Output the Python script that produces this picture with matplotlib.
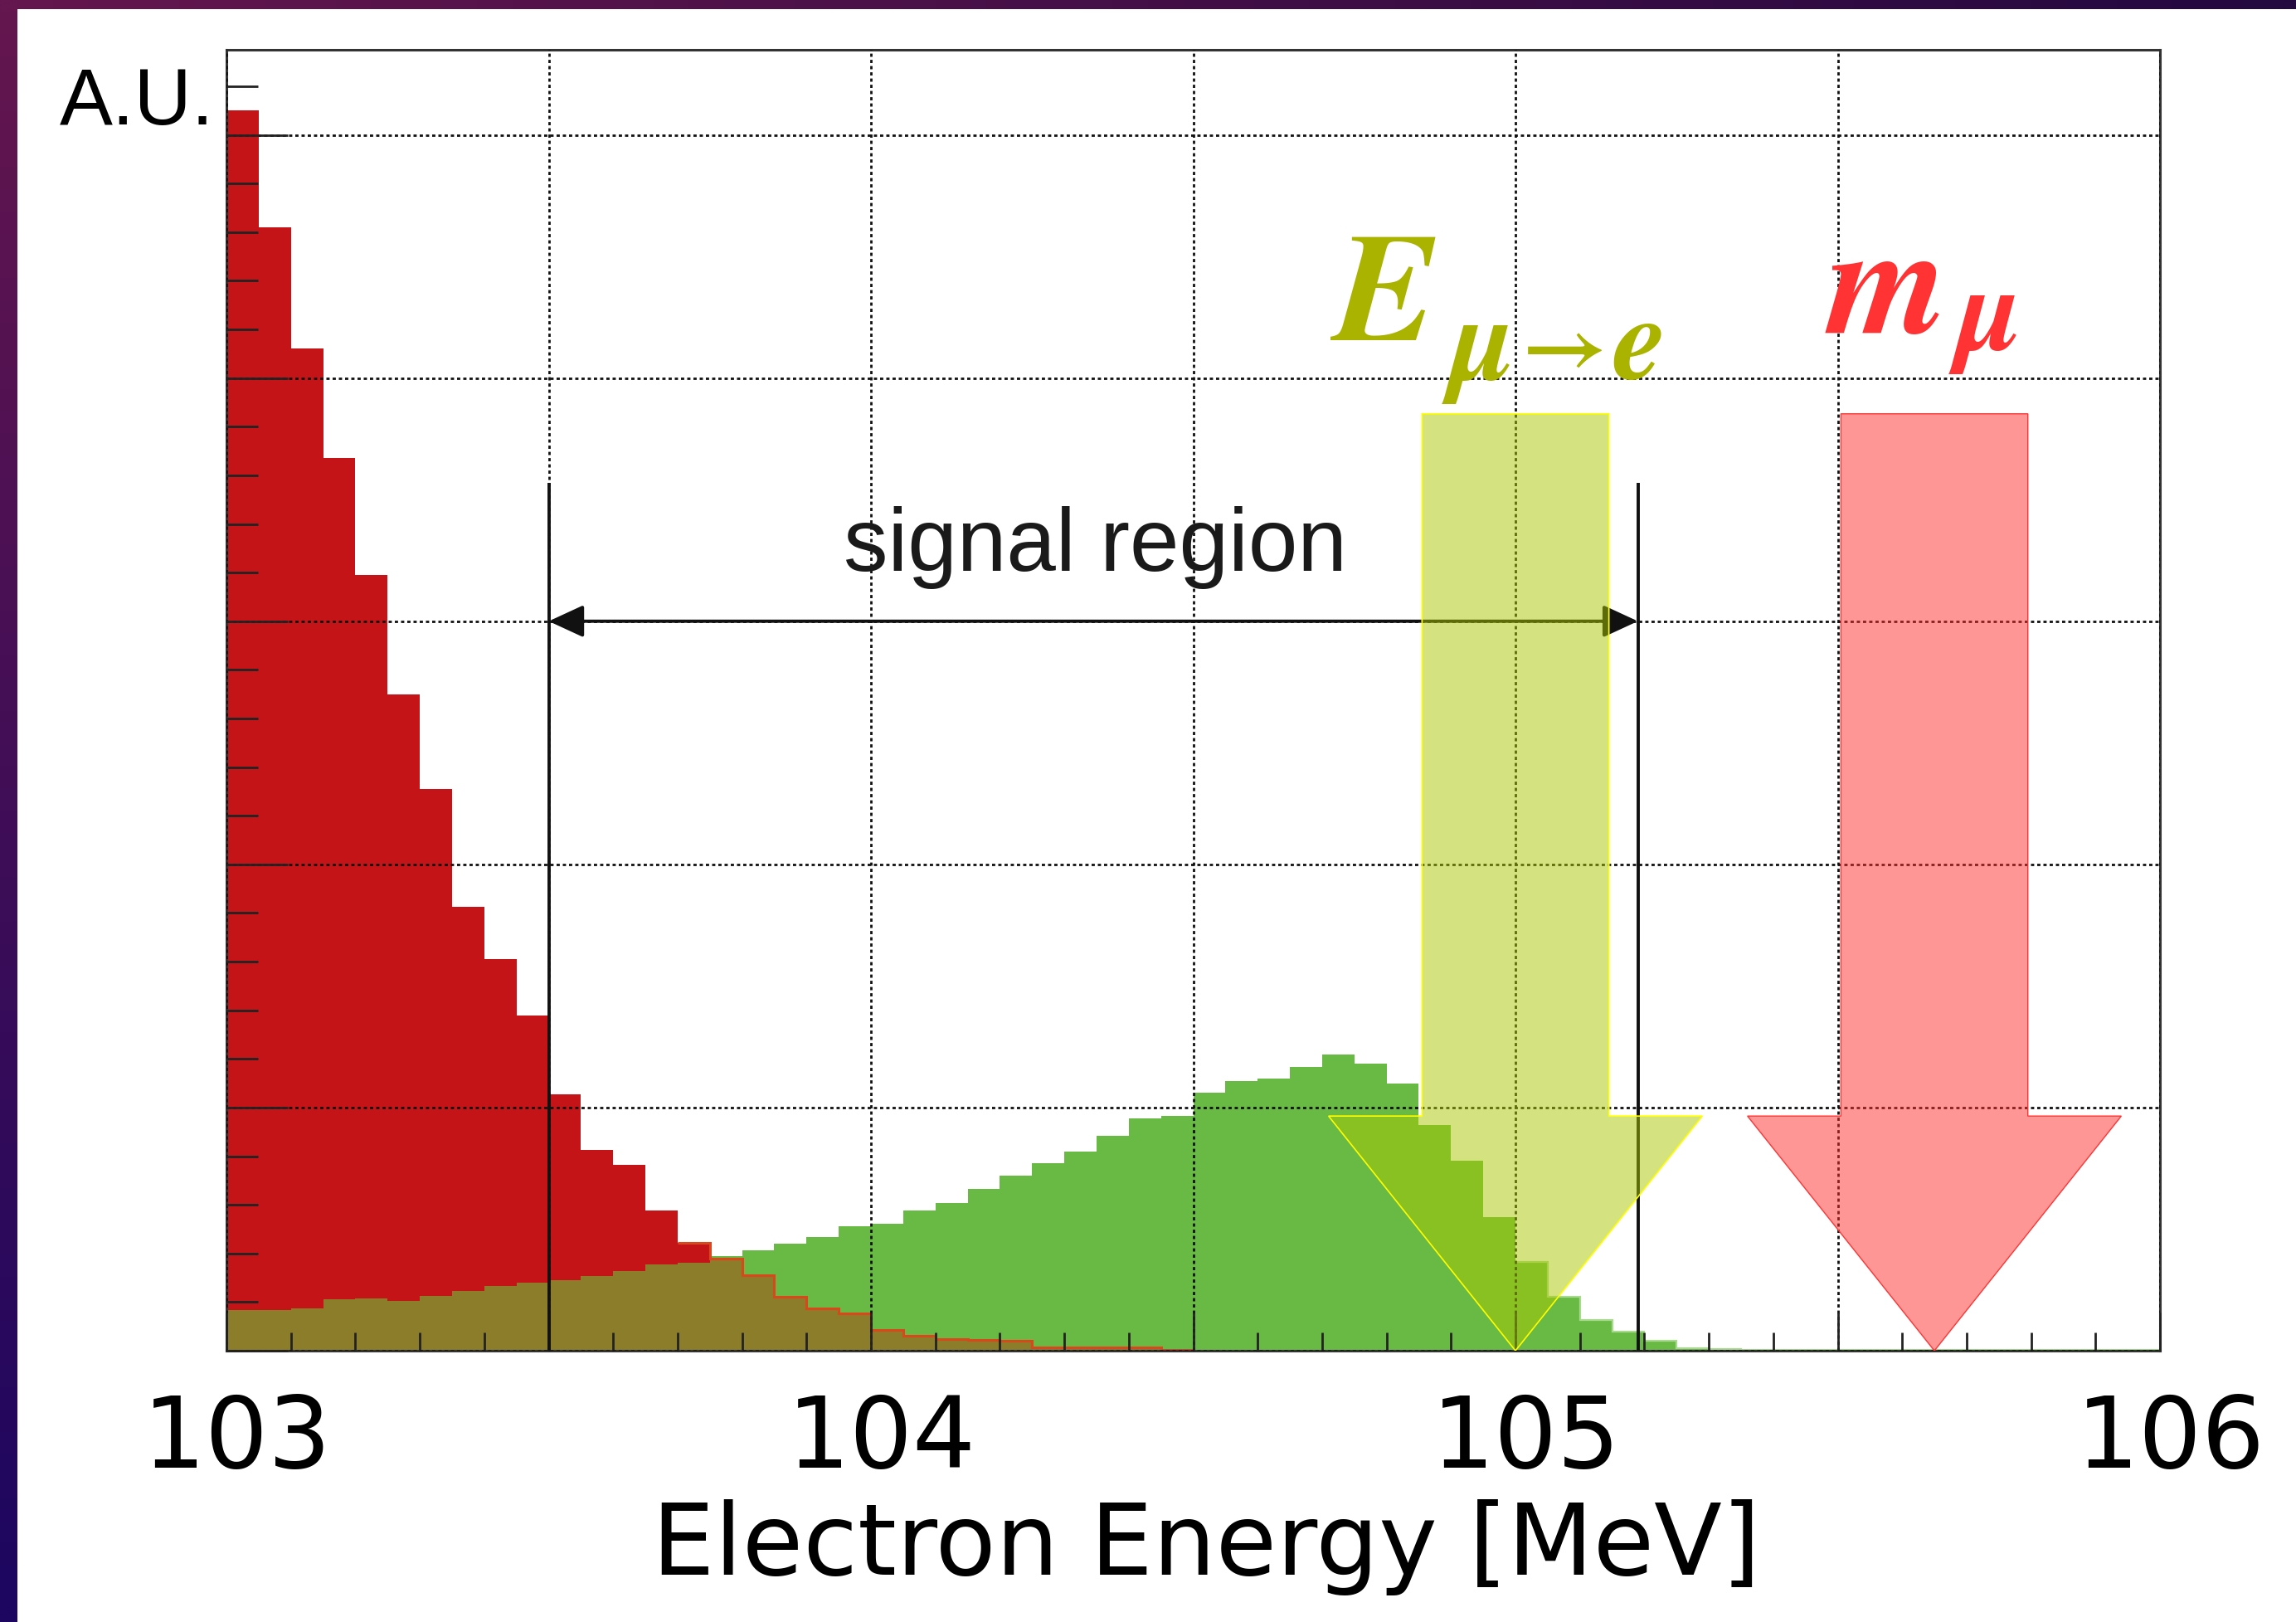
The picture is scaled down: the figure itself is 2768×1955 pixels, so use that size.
import numpy as np
import matplotlib
matplotlib.use("Agg")
import matplotlib.pyplot as plt
from matplotlib.patches import FancyArrow, Rectangle
from matplotlib.ticker import MultipleLocator, FuncFormatter
from matplotlib.transforms import ScaledTranslation

# ---------------- data ----------------
bin_start, bin_stop, n_bins = 103.0, 106.0, 60   # 0.05 MeV bins

red_counts = [5.10, 4.62, 4.12, 3.67, 3.19, 2.70, 2.31, 1.825, 1.61, 1.38,
              1.055, 0.825, 0.765, 0.578, 0.444, 0.379, 0.31, 0.222, 0.173, 0.154,
              0.085, 0.062, 0.047, 0.046, 0.042, 0.012, 0.012, 0.012, 0.012, 0.004,
              0, 0, 0, 0, 0, 0, 0, 0, 0, 0,
              0, 0, 0, 0, 0, 0, 0, 0, 0, 0,
              0, 0, 0, 0, 0, 0, 0, 0, 0, 0]

green_counts = [0.168, 0.168, 0.175, 0.211, 0.215, 0.205, 0.225, 0.245, 0.265, 0.28,
                0.29, 0.307, 0.328, 0.356, 0.362, 0.39, 0.414, 0.44, 0.466, 0.511,
                0.521, 0.578, 0.606, 0.666, 0.72, 0.772, 0.818, 0.884, 0.955, 0.966,
                1.062, 1.109, 1.12, 1.167, 1.218, 1.18, 1.10, 0.927, 0.782, 0.549,
                0.366, 0.223, 0.127, 0.078, 0.041, 0.010, 0.006, 0.003, 0.003, 0.002,
                0.002, 0.002, 0.002, 0.002, 0.002, 0.002, 0.002, 0.002, 0.002, 0.002]

signal_region = [103.5, 105.19]
signal_line_top = 3.57
signal_arrow_y = 3.0
signal_label = "signal region"

e_mu_e = 105.0          # E(mu -> e)
m_mu = 105.65           # muon mass
arrow_top = 3.853
arrow_head_y = 0.965
arrow_body_width = 0.29
arrow_head_width = 0.58

x_label = "Electron Energy [MeV]"
y_label = "A.U."
x_tick_labels = ["103", "104", "105", "106"]

# ---------------- colours ----------------
c_red = "#C41418"
c_green = "#69BA45"
c_overlap = "#8B7D29"
c_red_edge = "#D8481C"
c_elabel = "#AAB400"
c_mlabel = "#FF3333"

W, H = 2768, 1956
fig = plt.figure(figsize=(W / 100, H / 100), dpi=100)

# background frame (purple gradient + white sheet)
bg = fig.add_axes([0, 0, 1, 1], zorder=-10)
tl = np.array([100, 22, 78]) / 255
tr = np.array([36, 8, 64]) / 255
bl = np.array([28, 6, 96]) / 255
br = np.array([25, 5, 80]) / 255
u = np.linspace(0, 1, 64)[None, :, None]
v = np.linspace(0, 1, 64)[:, None, None]
img = (1 - v) * ((1 - u) * tl + u * tr) + v * ((1 - u) * bl + u * br)
bg.imshow(img, extent=[0, 1, 0, 1], aspect="auto", interpolation="bilinear", origin="upper")
bg.add_patch(Rectangle((21 / W, 0), 1, 1 - 12 / H, facecolor="white", edgecolor="none"))
bg.set_xlim(0, 1)
bg.set_ylim(0, 1)
bg.axis("off")

ax = fig.add_axes([273 / W, 1 - 1629 / H, (2604 - 273) / W, (1629 - 61) / H])
ax.set_facecolor("white")

edges = np.linspace(bin_start, bin_stop, n_bins + 1)
red = np.array(red_counts)
green = np.array(green_counts)
overlap = np.minimum(red, green)

ax.stairs(green, edges, fill=True, color=c_green, zorder=1.0)
ax.stairs(red, edges, fill=True, color=c_red, zorder=1.1)
ax.stairs(overlap, edges, fill=True, color=c_overlap, zorder=1.2)
ax.stairs(red[14:31], edges[14:32], fill=False, baseline=None, color=c_red_edge,
          linewidth=2.2, zorder=1.3)
ax.stairs(green[40:], edges[40:], fill=False, baseline=None, color="#A9D98F",
          linewidth=1.6, zorder=1.05)

ax.set_xlim(bin_start, bin_stop)
ax.set_ylim(0, 5.35)

# grid
ax.set_axisbelow(False)
ax.grid(True, which="major", color="#111111", linestyle=(0, (1.4, 1.3)), linewidth=2.0)

# ticks
ax.xaxis.set_major_locator(MultipleLocator(0.5))
ax.xaxis.set_minor_locator(MultipleLocator(0.1))
ax.yaxis.set_major_locator(MultipleLocator(1))
ax.yaxis.set_minor_locator(MultipleLocator(0.2))
ax.xaxis.set_major_formatter(FuncFormatter(
    lambda val, pos: x_tick_labels[int(round(val)) - 103] if abs(val - round(val)) < 1e-6 else ""))
ax.tick_params(axis="x", which="major", direction="in", length=33, width=2.0,
               colors="#222222", labelcolor="black", labelsize=86, pad=35, top=False)
ax.tick_params(axis="x", which="minor", direction="in", length=16, width=2.0,
               colors="#222222", top=False)
ax.tick_params(axis="y", which="major", direction="in", length=53, width=2.0,
               colors="#222222", labelleft=False, right=False)
ax.tick_params(axis="y", which="minor", direction="in", length=27, width=2.0,
               colors="#222222", right=False)
shift = ScaledTranslation(0.13, 0, fig.dpi_scale_trans)
for lab in ax.get_xticklabels():
    lab.set_fontfamily("DejaVu Sans")
    lab.set_transform(lab.get_transform() + shift)

for s in ax.spines.values():
    s.set_color("#333333")
    s.set_linewidth(2.2)

ax.set_xlabel(x_label, fontsize=86, fontfamily="DejaVu Sans", labelpad=10, x=0.5066)
fig.text(72 / W, 1 - 150 / H, y_label, fontsize=69, fontfamily="Liberation Sans",
         ha="left", va="baseline", color="black")

# signal region
for xs in signal_region:
    ax.plot([xs, xs], [0, signal_line_top], color="#111111", linewidth=2.8, zorder=3,
            solid_capstyle="butt")
ax.annotate("", xy=(signal_region[1], signal_arrow_y), xytext=(signal_region[0], signal_arrow_y),
            arrowprops=dict(arrowstyle="<|-|>,head_length=1.3,head_width=0.6",
                            mutation_scale=20, color="#111111", lw=2.8,
                            shrinkA=0, shrinkB=0), zorder=3)
ax.text(104.348, 3.21, signal_label, fontsize=77, fontfamily="Liberation Sans",
        color="#1a1a1a", ha="center", va="baseline", zorder=3)

# big arrows
arr1 = FancyArrow(e_mu_e, arrow_top, 0, -arrow_top, width=arrow_body_width,
                  head_width=arrow_head_width, head_length=arrow_head_y,
                  length_includes_head=True, facecolor=(0.667, 0.784, 0.0, 0.5),
                  edgecolor=(1.0, 1.0, 0.0, 1.0), linewidth=1.2, zorder=4)
arr2 = FancyArrow(m_mu, arrow_top, 0, -arrow_top, width=arrow_body_width,
                  head_width=arrow_head_width, head_length=arrow_head_y,
                  length_includes_head=True, facecolor=(1.0, 0.18, 0.18, 0.5),
                  edgecolor=(1.0, 0.2, 0.2, 1.0), linewidth=1.0, zorder=4)
ax.add_patch(arr1)
ax.add_patch(arr2)

# labels: symbol and subscript parts as separate texts
ax.text(104.712, 4.16, r"$\mathbfit{E}$", fontsize=134, math_fontfamily="stix",
        color=c_elabel, ha="left", va="baseline", zorder=5)
ax.text(104.885, 4.00, r"$\mathbfit{\mu}$", fontsize=104, math_fontfamily="stix",
        color=c_elabel, ha="left", va="baseline", zorder=5)
ax.text(104.99, 4.03, r"$\mathbf{\rightarrow}$", fontsize=76, math_fontfamily="stix",
        color=c_elabel, ha="left", va="baseline", zorder=5)
ax.text(105.15, 4.00, r"$\mathbfit{e}$", fontsize=104, math_fontfamily="stix",
        color=c_elabel, ha="left", va="baseline", zorder=5)
ax.text(105.480, 4.19, r"$\mathbfit{m}$", fontsize=134, math_fontfamily="stix",
        color=c_mlabel, ha="left", va="baseline", zorder=5)
ax.text(105.672, 4.12, r"$\mathbfit{\mu}$", fontsize=104, math_fontfamily="stix",
        color=c_mlabel, ha="left", va="baseline", zorder=5)

fig.savefig("out.png", dpi=100)
